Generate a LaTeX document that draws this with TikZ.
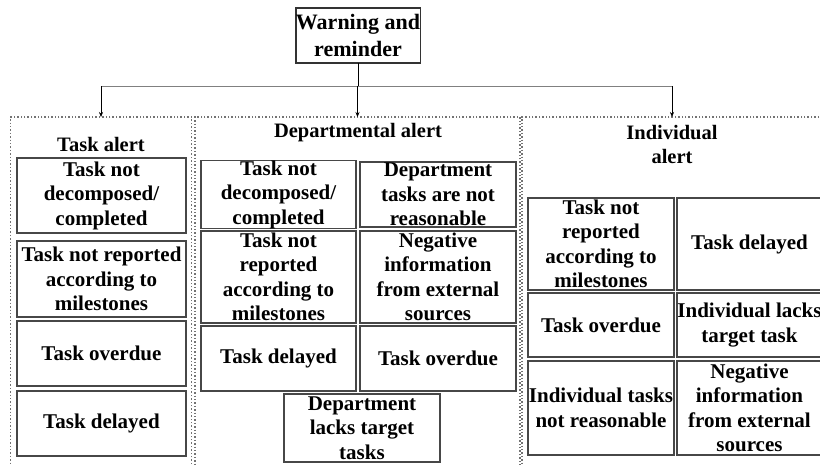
\documentclass[tikz,border=0pt]{standalone}
\usepackage{fontspec}
\setmainfont{Liberation Serif}
\usetikzlibrary{arrows.meta}
\begin{document}
\begin{tikzpicture}[x=1pt,y=-1pt,
  cell/.style={draw=black!72, line width=1.2pt, inner sep=0pt, outer sep=0pt, align=center,
    font=\fontsize{21}{24.5}\selectfont\bfseries},
  topbox/.style={draw=black!80, line width=1.1pt, inner sep=0pt, outer sep=0pt, align=center,
    font=\fontsize{22}{27}\selectfont\bfseries},
  group/.style={draw=black!55, dotted, line width=1.4pt, inner sep=0pt, outer sep=0pt},
  head/.style={inner sep=0pt, align=center, font=\fontsize{20.5}{24}\selectfont\bfseries},
  conn/.style={draw=black, line width=0.6pt},
  arr/.style={conn, -{Stealth[length=5pt,width=4pt]}},
  bus/.style={draw=black!50, line width=0.9pt}]
\useasboundingbox (0,0) rectangle (820,464);
\fill[white] (0,0) rectangle (820,464);

% top node
\node[topbox, minimum width=124, minimum height=55] (top) at (358,35.5) {Warning and\\reminder};

% groups (extend below picture edge)
\node[group, minimum width=181, minimum height=360] (gL) at (101,297) {};
\node[group, minimum width=325, minimum height=360] (gM) at (357.5,297) {};
\node[group, minimum width=300, minimum height=360] (gR) at (672,297) {};

% headings
\node[head] (hL) at (101,144) {Task alert};
\node[head] (hM) at (358,133) {Departmental alert};
\node[head] (hR) at (672,144) {Individual\\alert};

% connectors
\coordinate (bus) at (0,86);
\draw[conn] (top.south) -- (top.south |- bus);
\draw[bus] (gL.north |- bus) -- (gR.north |- bus);
\draw[arr] (gL.north |- bus) -- (gL.north);
\draw[arr] (gM.north |- bus) -- (gM.north);
\draw[arr] (gR.north |- bus) -- (gR.north);

% left column
\node[cell, minimum width=169, minimum height=75] (l1) at (101.5,195.5) {Task not\\decomposed/\\completed};
\node[cell, minimum width=169, minimum height=76] (l2) at (101.5,279) {Task not reported\\according to\\milestones};
\node[cell, minimum width=169, minimum height=65] (l3) at (101.5,353.5) {Task overdue};
\node[cell, minimum width=169, minimum height=65] (l4) at (101.5,423.5) {Task delayed};

% middle column
\node[cell, minimum width=155, minimum height=65] (m11) at (278.5,194.5) {Task not\\decomposed/\\completed};
\node[cell, minimum width=156, minimum height=65] (m12) at (438,194.5) {Department\\tasks are not\\reasonable};
\node[cell, minimum width=155, minimum height=92] (m21) at (278.5,277) {Task not\\reported\\according to\\milestones};
\node[cell, minimum width=156, minimum height=92] (m22) at (438,277) {Negative\\information\\from external\\sources};
\node[cell, minimum width=155, minimum height=65] (m31) at (278.5,358.5) {Task delayed};
\node[cell, minimum width=156, minimum height=65] (m32) at (438,358.5) {Task overdue};
\node[cell, minimum width=156, minimum height=68] (m4) at (362,428) {Department\\lacks target\\tasks};

% right column
\node[cell, minimum width=146, minimum height=92] (r11) at (601,244) {Task not\\reported\\according to\\milestones};
\node[cell, minimum width=145, minimum height=92] (r12) at (749.5,244) {Task delayed};
\node[cell, minimum width=146, minimum height=64] (r21) at (601,325) {Task overdue};
\node[cell, minimum width=145, minimum height=64] (r22) at (749.5,325) {Individual lacks\\target task};
\node[cell, minimum width=146, minimum height=94] (r31) at (601,408) {Individual tasks\\not reasonable};
\node[cell, minimum width=145, minimum height=94] (r32) at (749.5,408) {Negative\\information\\from external\\sources};
\end{tikzpicture}
\end{document}
